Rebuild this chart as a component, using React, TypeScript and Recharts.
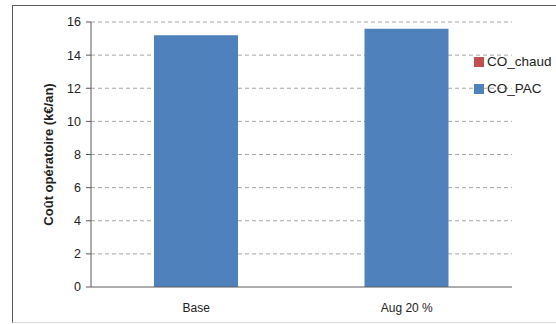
import React from "react";
import { BarChart, Bar, XAxis, YAxis, CartesianGrid, Legend } from "recharts";

const categories = ["Base", "Aug 20 %"];
const coPAC = [15.2, 15.6];
const coChaud = [0, 0];
const yTicks = [0, 2, 4, 6, 8, 10, 12, 14, 16];
const boundaryTicks = [0, 1, 2];

const data = categories.map((c, i) => ({ name: c, CO_PAC: coPAC[i], CO_chaud: coChaud[i] }));

const FONT = "'Liberation Sans', Arial, sans-serif";

const LegendContent = (props: any) => {
  const items = [...(props.payload || [])].reverse();
  return (
    <div style={{ fontFamily: FONT, fontSize: 13.5, color: "#222", whiteSpace: "nowrap" }}>
      {items.map((it: any) => (
        <div key={it.value} style={{ display: "flex", alignItems: "center", height: 27 }}>
          <span style={{ width: 10, height: 10, background: it.color, display: "inline-block", marginRight: 3 }} />
          <span>{it.value}</span>
        </div>
      ))}
    </div>
  );
};

export default function App() {
  return (
    <div style={{ position: "absolute", left: 0, top: 0, width: 556, height: 324, background: "#fff" }}>
      <div
        style={{
          position: "absolute",
          left: 12,
          top: 5,
          width: 560,
          height: 316,
          borderLeft: "1px solid #5a5a5a",
          borderTop: "1px solid #5a5a5a",
          borderBottom: "1px solid #d9d9d9",
        }}
      />
      <div style={{ position: "absolute", left: 0, top: 0 }}>
        <BarChart
          width={556}
          height={324}
          data={data}
          margin={{ top: 22, right: 44, bottom: 0, left: 0 }}
          barCategoryGap="30%"
        >
          <CartesianGrid
            xAxisId="cat"
            vertical={false}
            stroke="#a6a6a6"
            strokeDasharray="4 3"
            horizontalValues={[2, 4, 6, 8, 10, 12, 14, 16]}
          />
          <XAxis
            xAxisId="bnd"
            type="number"
            domain={[0, 2]}
            ticks={boundaryTicks}
            allowDataOverflow
            height={0}
            tick={false}
            tickLine={{ stroke: "#5a5a5a" }}
            tickSize={5}
            axisLine={false}
          />
          <XAxis
            xAxisId="cat"
            dataKey="name"
            height={37}
            axisLine={{ stroke: "#5a5a5a" }}
            tickLine={false}
            tick={{ fontFamily: FONT, fontSize: 12, fill: "#222" }}
            tickMargin={10}
          />
          <YAxis
            width={91}
            domain={[0, 16]}
            ticks={yTicks}
            interval={0}
            axisLine={{ stroke: "#5a5a5a" }}
            tickLine={{ stroke: "#5a5a5a" }}
            tickSize={5}
            tickMargin={5}
            tick={{ fontFamily: FONT, fontSize: 12.5, fill: "#222" }}
            label={{
              content: (p: any) => {
                const vb = p.viewBox;
                const cx = vb.x + 48;
                const cy = vb.y + vb.height / 2;
                return (
                  <text
                    x={cx}
                    y={cy}
                    transform={`rotate(-90, ${cx}, ${cy})`}
                    textAnchor="middle"
                    dominantBaseline="central"
                    fontFamily={FONT}
                    fontSize={13}
                    fontWeight="bold"
                    fill="#222"
                  >
                    Coût opératoire (k€/an)
                  </text>
                );
              },
            }}
          />
          <Legend
            content={<LegendContent />}
            wrapperStyle={{ position: "absolute", left: 474, top: 48, width: 90, height: 0, overflow: "visible" }}
          />
          <Bar xAxisId="cat" dataKey="CO_PAC" name="CO_PAC" stackId="a" fill="#4f81bd" barSize={84} isAnimationActive={false} />
          <Bar xAxisId="cat" dataKey="CO_chaud" name="CO_chaud" stackId="a" fill="#c0504d" barSize={84} isAnimationActive={false} />
        </BarChart>
      </div>
    </div>
  );
}
